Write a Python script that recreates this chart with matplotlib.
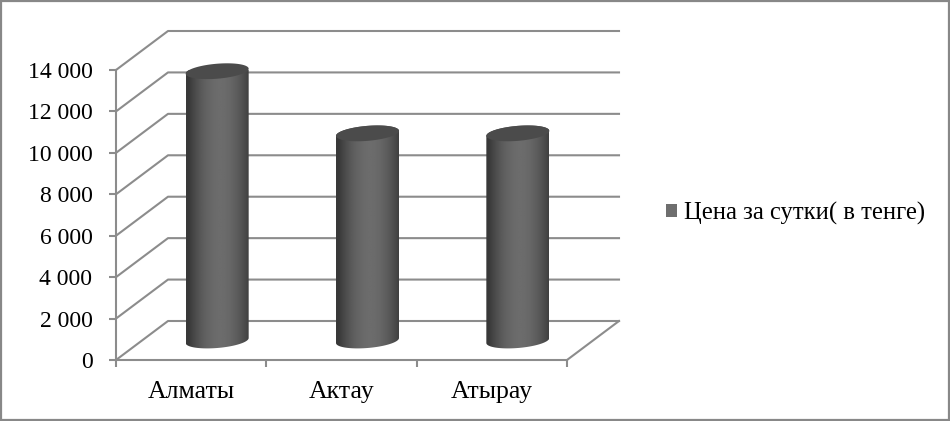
import numpy as np
import matplotlib
matplotlib.use('Agg')
import matplotlib.pyplot as plt
from matplotlib.patches import PathPatch, Rectangle
from matplotlib.path import Path
from matplotlib.ticker import FuncFormatter

cities = ['Алматы', 'Актау', 'Атырау']
prices = [13000, 10000, 10000]
y_ticks = [0, 2000, 4000, 6000, 8000, 10000, 12000, 14000]
legend_label = 'Цена за сутки( в тенге)'

W, H = 950, 421
plt.rcParams['font.family'] = 'Liberation Serif'

fig = plt.figure(figsize=(W / 100, H / 100), dpi=100)
# front edges of the 3d box: x 116..567, y 360..70 px
ax = fig.add_axes([116 / W, 1 - 360 / H, 451 / W, 290 / H])
ax.set_xlim(0, len(cities))
ax.set_ylim(0, 14000)
ax.patch.set_visible(False)

px_x = len(cities) / 451
px_y = 14000 / 290
depth_x = 52 * px_x
depth_y = 39 * px_y
grid_col = '#8c8c8c'

# walls: depth lines and back grid lines
for v in y_ticks:
    ax.plot([0, depth_x, len(cities) + depth_x], [v, v + depth_y, v + depth_y],
            color=grid_col, lw=1.5, clip_on=False, zorder=1)
ax.plot([len(cities), len(cities) + depth_x], [0, depth_y],
        color=grid_col, lw=1.5, clip_on=False, zorder=1)

# cylinders
half_w = 31.5 * px_x
ell_h = 7.5 * px_y
tilt = 2.5 * px_y
grad = np.abs(np.linspace(-1, 1, 128) - 0.08)
grad = 0x6c - (0x6c - 0x38) * np.clip(grad, 0, 1) ** 2
grad = grad[np.newaxis, :]

for i, val in enumerate(prices):
    cx = i + 0.5 + depth_x / 2
    y0 = depth_y / 2
    y1 = val + depth_y / 2
    t_low = np.linspace(np.pi, 2 * np.pi, 60)
    t_high = np.linspace(0, np.pi, 60)
    low_x = cx + half_w * np.cos(t_low)
    low_y = y0 + ell_h * np.sin(t_low) + tilt * np.cos(t_low)
    high_x = cx + half_w * np.cos(t_high)
    high_y = y1 + ell_h * np.sin(t_high) + tilt * np.cos(t_high)
    verts = np.column_stack([np.r_[low_x, high_x], np.r_[low_y, high_y]])
    body = PathPatch(Path(np.vstack([verts, verts[:1]])), transform=ax.transData,
                     fc='none', ec='none')
    ax.add_patch(body)
    im = ax.imshow(grad, cmap='gray', vmin=0, vmax=255, aspect='auto',
                   extent=[cx - half_w, cx + half_w, y0 - 2 * ell_h, y1 + 2 * ell_h],
                   zorder=3, interpolation='bilinear')
    im.set_clip_path(body)
    t = np.linspace(0, 2 * np.pi, 120)
    ax.fill(cx + half_w * np.cos(t), y1 + ell_h * np.sin(t) + tilt * np.cos(t),
            color='#4b4b4b', lw=0, zorder=4, clip_on=False)
ax.set_xlim(0, len(cities))
ax.set_ylim(0, 14000)
ax.set_aspect('auto')

for s in ['top', 'right']:
    ax.spines[s].set_visible(False)
for s in ['left', 'bottom']:
    ax.spines[s].set_color(grid_col)
    ax.spines[s].set_linewidth(1.5)

ax.set_yticks(y_ticks)
ax.yaxis.set_major_formatter(FuncFormatter(lambda v, p: f'{int(v):,}'.replace(',', ' ')))
ax.set_xticks(range(len(cities) + 1))
ax.set_xticklabels([])
ax.set_xticks(np.arange(len(cities)) + 0.5, minor=True)
ax.set_xticklabels(cities, minor=True)
ax.tick_params(axis='y', length=5, width=1.5, color=grid_col, labelsize=17, pad=12)
ax.tick_params(axis='x', which='major', length=5, width=1.5, color=grid_col)
ax.tick_params(axis='x', which='minor', length=0, labelsize=18.5, pad=15)

handle = Rectangle((0, 0), 1, 1, fc='#6e6e6e', ec='none')
fig.legend([handle], [legend_label], loc='center left', bbox_to_anchor=(666 / W, 1 - 213 / H),
           frameon=False, fontsize=17.7, handlelength=0.45, handleheight=0.45,
           handletextpad=0.3, borderpad=0, borderaxespad=0)

# outer chart frame
fig.add_artist(Rectangle((1 / W, 1 - 420 / H), 948 / W, 419 / H, transform=fig.transFigure,
                         fc='none', ec='#888888', lw=1.6))

fig.savefig('out.png', dpi=100)
